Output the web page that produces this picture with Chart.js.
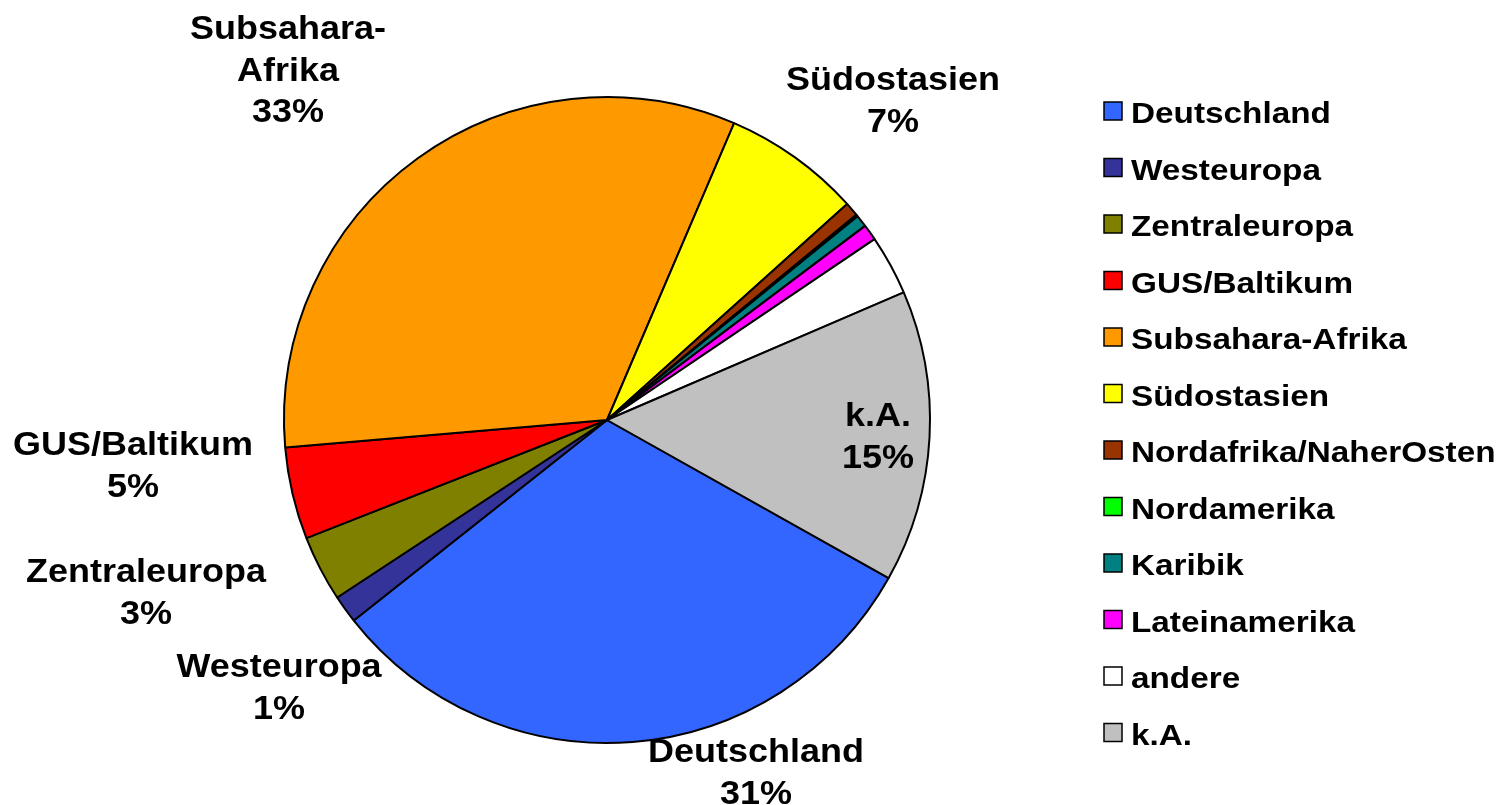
<!DOCTYPE html>
<html>
<head>
<meta charset="utf-8">
<script src="https://cdn.jsdelivr.net/npm/chart.js@4/dist/chart.umd.min.js"></script>
<style>
html,body{margin:0;padding:0;background:#fff;}
#wrap{width:1498px;height:805px;position:relative;}
</style>
</head>
<body>
<div id="wrap"><canvas id="c" width="1498" height="805"></canvas></div>
<script>
// ---- data ----
const categories = ["Deutschland","Westeuropa","Zentraleuropa","GUS/Baltikum","Subsahara-Afrika","Südostasien","Nordafrika/NaherOsten","Nordamerika","Karibik","Lateinamerika","andere","k.A."];
const shares = [31.2, 1.4, 3.3, 4.6, 32.8, 6.9, 0.7, 0.1, 0.6, 0.8, 3.0, 14.6];
const sliceColors = ["#3366FF","#333399","#808000","#FF0000","#FF9900","#FFFF00","#993300","#00FF00","#008080","#FF00FF","#FFFFFF","#C0C0C0"];
const pieLabelNames = ["Deutschland","Westeuropa","Zentraleuropa","GUS/Baltikum","Subsahara-\nAfrika","Südostasien","","","","","","k.A."];

// ---- label placement (offsets from pie centre, first-line baseline) ----
const labelLayout = {
  "Deutschland":      {dx: 149,  dy: 342},
  "Westeuropa":       {dx: -328, dy: 257},
  "Zentraleuropa":    {dx: -461, dy: 162},
  "GUS/Baltikum":     {dx: -474, dy: 35},
  "Subsahara-Afrika": {dx: -319, dy: -381},
  "Südostasien":      {dx: 286,  dy: -330},
  "k.A.":             {dx: 271,  dy: 6}
};

const FONT = '"Liberation Sans", Arial, sans-serif';

function stretchedText(ctx, text, x, y, size, sx, align){
  ctx.save();
  ctx.font = 'bold ' + size + 'px ' + FONT;
  ctx.textAlign = align;
  ctx.textBaseline = 'alphabetic';
  ctx.translate(x, y);
  ctx.scale(sx, 1);
  ctx.fillStyle = '#000';
  ctx.fillText(text, 0, 0);
  ctx.restore();
}

const labelPlugin = {
  id: 'pieLabels',
  afterDraw(chart){
    const ctx = chart.ctx;
    const meta = chart.getDatasetMeta(0);
    const cx = meta.data[0].x, cy = meta.data[0].y;
    const total = shares.reduce((a,b)=>a+b,0);
    categories.forEach((cat, i) => {
      const lay = labelLayout[cat];
      if(!lay) return;
      const lines = pieLabelNames[i].split('\n');
      lines.push(Math.round(shares[i]/total*100) + '%');
      lines.forEach((ln, k) => {
        stretchedText(ctx, ln, cx + lay.dx, cy + lay.dy + k*41.5, 33, 1.09, 'center');
      });
    });
    // legend
    const lx = 1104, ly0 = 112, step = 56.5, box = 18;
    categories.forEach((cat, i) => {
      const yc = ly0 + i*step;
      ctx.save();
      ctx.fillStyle = sliceColors[i];
      ctx.fillRect(lx, yc - box/2 - 1, box, box);
      ctx.strokeStyle = '#000';
      ctx.lineWidth = 1.5;
      ctx.strokeRect(lx, yc - box/2 - 1, box, box);
      ctx.restore();
      stretchedText(ctx, cat, lx + 27, yc + 11, 30, 1.11, 'left');
    });
  }
};

new Chart(document.getElementById('c'), {
  type: 'pie',
  data: {
    labels: categories,
    datasets: [{
      data: shares,
      backgroundColor: sliceColors,
      borderColor: '#000',
      borderWidth: 2
    }]
  },
  options: {
    responsive: false,
    animation: false,
    rotation: 119.3,
    radius: 323,
    layout: {padding: {left: 277, right: 561, top: 90, bottom: 55}},
    plugins: {legend: {display: false}, tooltip: {enabled: false}}
  },
  plugins: [labelPlugin]
});
</script>
</body>
</html>
